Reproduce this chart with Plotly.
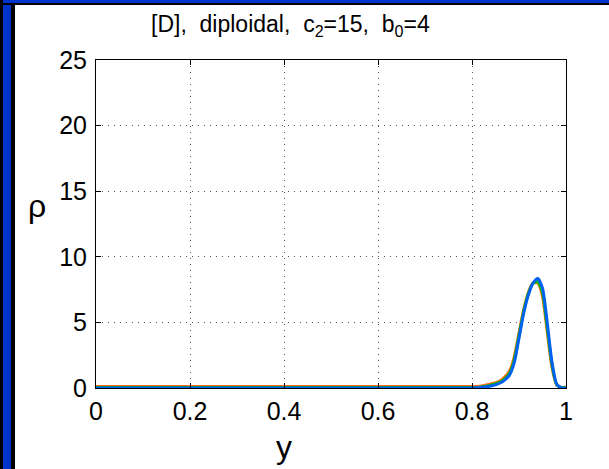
import plotly.graph_objects as go

# Data
y_grid = [0.0, 0.80, 0.82, 0.84, 0.86, 0.87, 0.88, 0.89, 0.90, 0.91, 0.92, 0.93, 0.94,
          0.95, 0.96, 0.97, 0.98, 0.99, 1.0]
rho_orange = [0.12, 0.12, 0.16, 0.3, 0.55, 0.85, 1.3, 2.4, 4.2, 6.0, 7.3, 8.0, 8.0,
              7.0, 4.3, 1.6, 0.25, 0.05, 0.05]
rho_green = [0.03, 0.03, 0.08, 0.22, 0.45, 0.72, 1.12, 2.15, 4.0, 5.85, 7.2, 8.0, 8.1,
             7.3, 4.6, 1.8, 0.28, 0.03, 0.03]
rho_blue = [0.0, 0.0, 0.05, 0.15, 0.38, 0.62, 1.0, 1.95, 3.8, 5.7, 7.1, 8.0, 8.35,
            7.6, 5.0, 2.0, 0.3, 0.02, 0.0]

series = [("orange", rho_orange, "#FF6A10"),
          ("green", rho_green, "#00C000"),
          ("blue", rho_blue, "#0060F0")]

x_ticks = [0, 0.2, 0.4, 0.6, 0.8, 1]
x_tick_text = ["0", "0.2", "0.4", "0.6", "0.8", "1"]
y_ticks = [0, 5, 10, 15, 20, 25]
y_tick_text = ["0", "5", "10", "15", "20", "25"]

W, H = 609, 469
L, R, T, B = 96, 566, 60, 388

fig = go.Figure()
for name, vals, col in series:
    fig.add_trace(go.Scatter(x=y_grid, y=vals, mode="lines", name=name,
                             line=dict(color=col, width=3, shape="spline", smoothing=0.6),
                             showlegend=False, cliponaxis=False))

font = "Liberation Sans, Arial, sans-serif"
axis_common = dict(showline=True, linecolor="black", linewidth=1, mirror="ticks",
                   ticks="inside", ticklen=5, tickcolor="black",
                   showgrid=True, gridcolor="#555555", griddash="1px,5px", gridwidth=1,
                   zeroline=False, tickfont=dict(family=font, size=25, color="black"))

fig.update_layout(
    width=W, height=H,
    margin=dict(l=L, r=W - R, t=T, b=H - B),
    paper_bgcolor="white", plot_bgcolor="white",
    xaxis=dict(range=[0, 1], tickvals=x_ticks, ticktext=x_tick_text,
               ticklabelstandoff=1, **axis_common),
    yaxis=dict(range=[0, 25], tickvals=y_ticks, ticktext=y_tick_text,
               ticklabelstandoff=3, **axis_common),
)

def px_x(p):
    return (p - L) / (R - L)

def px_y(p):
    return (B - p) / (B - T)

# Frame strips (left and top)
shapes = [
    dict(type="rect", xref="paper", yref="paper", x0=px_x(0), x1=px_x(15), y0=px_y(H + 5), y1=px_y(-5),
         fillcolor="black", line=dict(width=0), layer="above"),
    dict(type="rect", xref="paper", yref="paper", x0=px_x(3), x1=px_x(11), y0=px_y(H + 5), y1=px_y(3),
         fillcolor="#0033CC", line=dict(width=0), layer="above"),
    dict(type="rect", xref="paper", yref="paper", x0=px_x(0), x1=px_x(W + 5), y0=px_y(5), y1=px_y(-5),
         fillcolor="black", line=dict(width=0), layer="above"),
    dict(type="rect", xref="paper", yref="paper", x0=px_x(3), x1=px_x(W + 5), y0=px_y(3), y1=px_y(-5),
         fillcolor="#0033CC", line=dict(width=0), layer="above"),
]
fig.update_layout(shapes=shapes)

sp = "\u00a0"
fig.add_annotation(text=f"[D],{sp}{sp}diploidal,{sp}{sp}c<sub>2</sub>=15,{sp}{sp}b<sub>0</sub>=4",
                   xref="paper", yref="paper", x=px_x(290), y=px_y(25),
                   xanchor="center", yanchor="middle", showarrow=False,
                   font=dict(family=font, size=23, color="black"))
fig.add_annotation(text="ρ", xref="paper", yref="paper", x=px_x(37), y=px_y(206),
                   xanchor="center", yanchor="middle", showarrow=False,
                   font=dict(family=font, size=32, color="black"))
fig.add_annotation(text="y", xref="paper", yref="paper", x=px_x(284), y=px_y(447),
                   xanchor="center", yanchor="middle", showarrow=False,
                   font=dict(family=font, size=32, color="black"))

fig.write_html("out.html")
